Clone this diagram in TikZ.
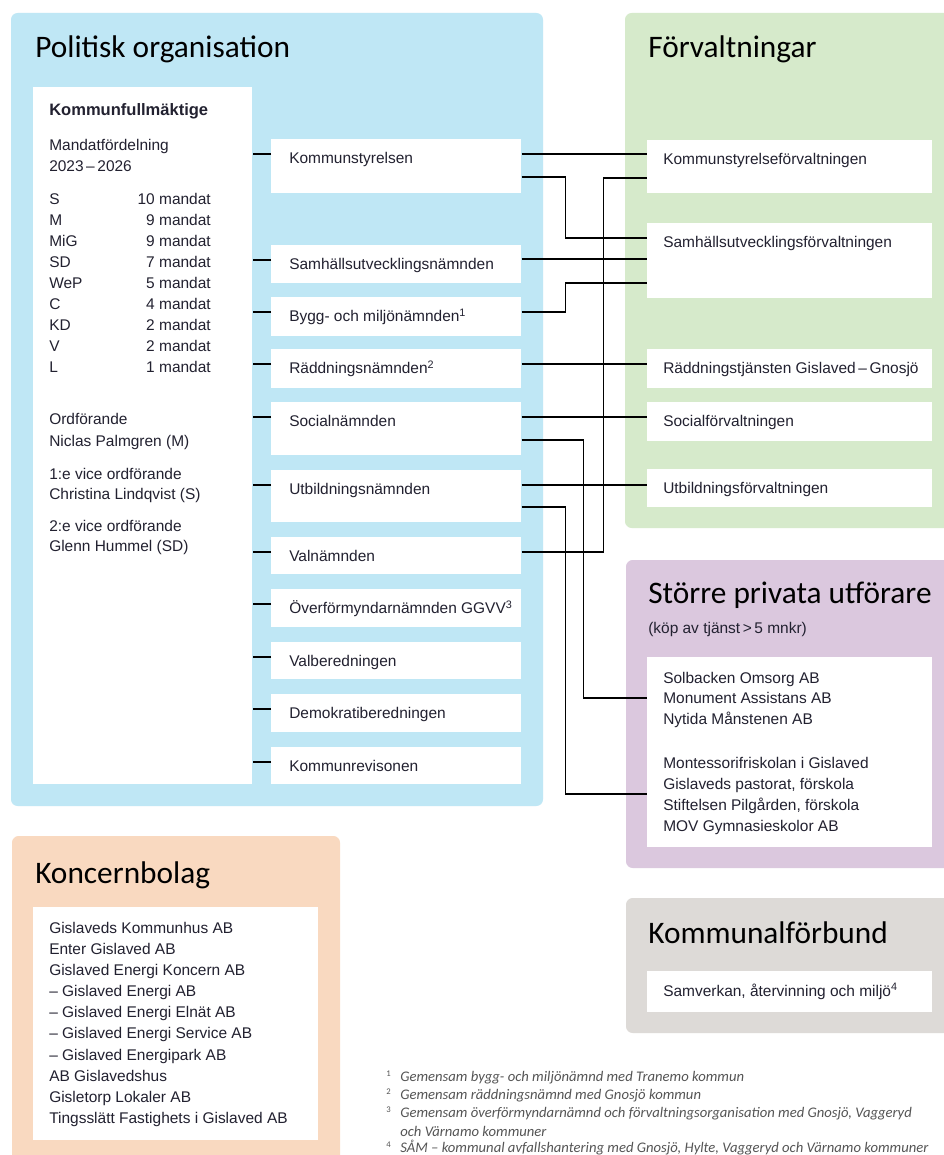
\documentclass[tikz,border=0pt]{standalone}
\usepackage{fontspec}
\setmainfont{Liberation Sans}
\newfontfamily\headfont{Carlito}

\definecolor{polblue}{RGB}{191,231,245}
\definecolor{forvgreen}{RGB}{214,234,203}
\definecolor{privlilac}{RGB}{219,200,222}
\definecolor{bolagpeach}{RGB}{249,217,192}
\definecolor{forbgrey}{RGB}{221,218,215}
\definecolor{ink}{RGB}{34,33,48}
\definecolor{notegrey}{RGB}{85,85,85}

\begin{document}
\begin{tikzpicture}[x=0.75pt,y=-0.75pt,
  panel/.style={rounded corners=5pt},
  white box/.style={fill=white, anchor=north west, inner sep=0, minimum width=#1*0.75pt},
  nbox/.style={white box=250},
  fbox/.style={white box=285},
  txt/.style={anchor=west, inner sep=0, text height=8.2pt, text depth=0pt, text=ink, font=\fontsize{11.6}{14}\selectfont},
  head/.style={anchor=base west, inner sep=0, text=black, font=\headfont\fontsize{23.5}{28}\selectfont},
  note/.style={anchor=west, inner sep=0, text height=7pt, text depth=0pt, text=notegrey, font=\headfont\itshape\fontsize{11}{13}\selectfont},
  fnnum/.style={anchor=west, inner sep=0, text=notegrey, font=\headfont\fontsize{6.5}{8}\selectfont},
  link/.style={draw=black, line width=1.1pt}]

  \useasboundingbox (0,0) rectangle (943,1155);
  \fill[white] (0,0) rectangle (943,1155);

  % panels
  \fill[panel, polblue] (11,13) rectangle (543,806);
  \fill[panel, forvgreen] (625,13) rectangle (955,528);
  \fill[panel, privlilac] (626,560) rectangle (955,868);
  \fill[panel, forbgrey] (626,898) rectangle (955,1033);
  \fill[panel, bolagpeach] (12,836) rectangle (340,1170);

  \node[head] (polhead) at (35,58) {Politisk organisation};
  \node[head] (forvhead) at (648,58) {Förvaltningar};
  \node[head] (privhead) at (648,603) {Större privata utförare};
  \node[txt] (privsub) at (648,628) {(köp av tjänst\,>\,5 mnkr)};
  \node[head] (bolaghead) at (35,883) {Koncernbolag};
  \node[head] (forbhead) at (648,943) {Kommunalförbund};

  % kommunfullmaktige
  \node[white box=219, minimum height=697*0.75pt] (kf) at (33,87) {};
  \node[txt, font=\bfseries\fontsize{12.4}{14}\selectfont] (kftitle) at (49,110) {Kommunfullmäktige};
  \node[txt] (mandat) at (49,145) {Mandatfördelning};
  \node[txt] (period) at (49,166) {2023\,–\,2026};
  \foreach \p/\m [count=\i from 0] in {S/10,M/9,MiG/9,SD/7,WeP/5,C/4,KD/2,V/2,L/1} {
    \node[txt] (party\i) at (49,199+21*\i) {\p};
    \node[txt, anchor=east] (seats\i) at (211,199+21*\i) {\m\ mandat};
  }
  \node[txt] (chair) at (49,419) {Ordförande};
  \node[txt] (chairname) at (49,441) {Niclas Palmgren (M)};
  \node[txt] (vice1) at (49,474) {1:e vice ordförande};
  \node[txt] (vice1name) at (49,494) {Christina Lindqvist (S)};
  \node[txt] (vice2) at (49,526) {2:e vice ordförande};
  \node[txt] (vice2name) at (49,546) {Glenn Hummel (SD)};

  % namnder
  \foreach \n/\y/\h/\t in {ks/139/54/Kommunstyrelsen, samh/245/38/Samhällsutvecklingsnämnden,
      bygg/297/39/Bygg- och miljönämnden\textsuperscript{1}, radd/349/39/Räddningsnämnden\textsuperscript{2},
      soc/402/53/Socialnämnden, utb/470/52/Utbildningsnämnden, valn/537/37/Valnämnden,
      overf/589/38/Överförmyndarnämnden GGVV\textsuperscript{3}, valb/642/37/Valberedningen,
      demo/694/38/Demokratiberedningen, krev/747/37/Kommunrevisonen} {
    \node[nbox, minimum height=\h*0.75pt] (\n) at (271,\y) {};
    \node[txt] (\n-t) at ([shift={(18,19.5)}]\n.north west) {\t};
    \draw[link] ([shift={(0,15)}]\n.north west) coordinate (stub) -- (stub -| kf.east);
  }

  % forvaltningar
  \foreach \n/\y/\h/\t in {ksf/140/53/Kommunstyrelseförvaltningen, suf/223/75/Samhällsutvecklingsförvaltningen,
      rtj/349/39/Räddningstjänsten Gislaved\,–\,Gnosjö, socf/402/39/Socialförvaltningen,
      utbf/469/38/Utbildningsförvaltningen} {
    \node[fbox, minimum height=\h*0.75pt] (\n) at (647,\y) {};
    \node[txt] (\n-t) at ([shift={(16,19.5)}]\n.north west) {\t};
  }

  % privata utforare
  \node[fbox, minimum height=190*0.75pt] (priv) at (647,657) {};
  \foreach \t [count=\i from 0] in {Solbacken Omsorg AB, Monument Assistans AB, Nytida Månstenen AB}
    \node[txt] (care\i) at (663,678+20.5*\i) {\t};
  \foreach \t [count=\i from 0] in {Montessorifriskolan i Gislaved, {Gislaveds pastorat, förskola},
      {Stiftelsen Pilgården, förskola}, MOV Gymnasieskolor AB}
    \node[txt] (school\i) at (663,763+21*\i) {\t};

  % kommunalforbund
  \node[fbox, minimum height=41*0.75pt] (sam) at (647,971) {};
  \node[txt] (sam-t) at ([shift={(16,20)}]sam.north west) {Samverkan, återvinning och miljö\textsuperscript{4}};

  % koncernbolag
  \node[white box=285, minimum height=233*0.75pt] (bolag) at (33,907) {};
  \foreach \t [count=\i from 0] in {Gislaveds Kommunhus AB, Enter Gislaved AB, Gislaved Energi Koncern AB,
      – Gislaved Energi AB, – Gislaved Energi Elnät AB, – Gislaved Energi Service AB,
      – Gislaved Energipark AB, AB Gislavedshus, Gisletorp Lokaler AB, Tingsslätt Fastighets i Gislaved AB}
    \node[txt] (bolag\i) at (49,928+21.1*\i) {\t};

  % connectors
  \draw[link] ([shift={(0,15)}]ks.north east) coordinate (a) -- (a -| ksf.west);
  \draw[link] ([shift={(0,38)}]ks.north east) -- ++(44,0) |- ([shift={(0,15)}]suf.north west);
  \draw[link] ([shift={(0,15)}]valn.north east) -- ++(82,0) |- ([shift={(0,38)}]ksf.north west);
  \draw[link] ([shift={(0,14)}]samh.north east) coordinate (a) -- (a -| suf.west);
  \draw[link] ([shift={(0,15)}]bygg.north east) -- ++(44,0) |- ([shift={(0,60)}]suf.north west);
  \draw[link] ([shift={(0,15)}]radd.north east) coordinate (a) -- (a -| rtj.west);
  \draw[link] ([shift={(0,15)}]soc.north east) coordinate (a) -- (a -| socf.west);
  \draw[link] ([shift={(0,38)}]soc.north east) -- ++(62,0) |- ([shift={(0,41)}]priv.north west);
  \draw[link] ([shift={(0,15)}]utb.north east) coordinate (a) -- (a -| utbf.west);
  \draw[link] ([shift={(0,37)}]utb.north east) -- ++(44,0) |- ([shift={(0,137)}]priv.north west);

  % footnotes
  \foreach \i/\y in {1/1074,2/1092,3/1110,4/1145}
    \node[fnnum] (fnnum\i) at (386,\y) {\i};
  \node[note] (fn1) at (400,1077) {Gemensam bygg- och miljönämnd med Tranemo kommun};
  \node[note] (fn2) at (400,1095) {Gemensam räddningsnämnd med Gnosjö kommun};
  \node[note] (fn3) at (400,1113) {Gemensam överförmyndarnämnd och förvaltningsorganisation med Gnosjö, Vaggeryd};
  \node[note] (fn3b) at (400,1132) {och Värnamo kommuner};
  \node[note] (fn4) at (400,1148) {SÅM – kommunal avfallshantering med Gnosjö, Hylte, Vaggeryd och Värnamo kommuner};

\end{tikzpicture}
\end{document}
